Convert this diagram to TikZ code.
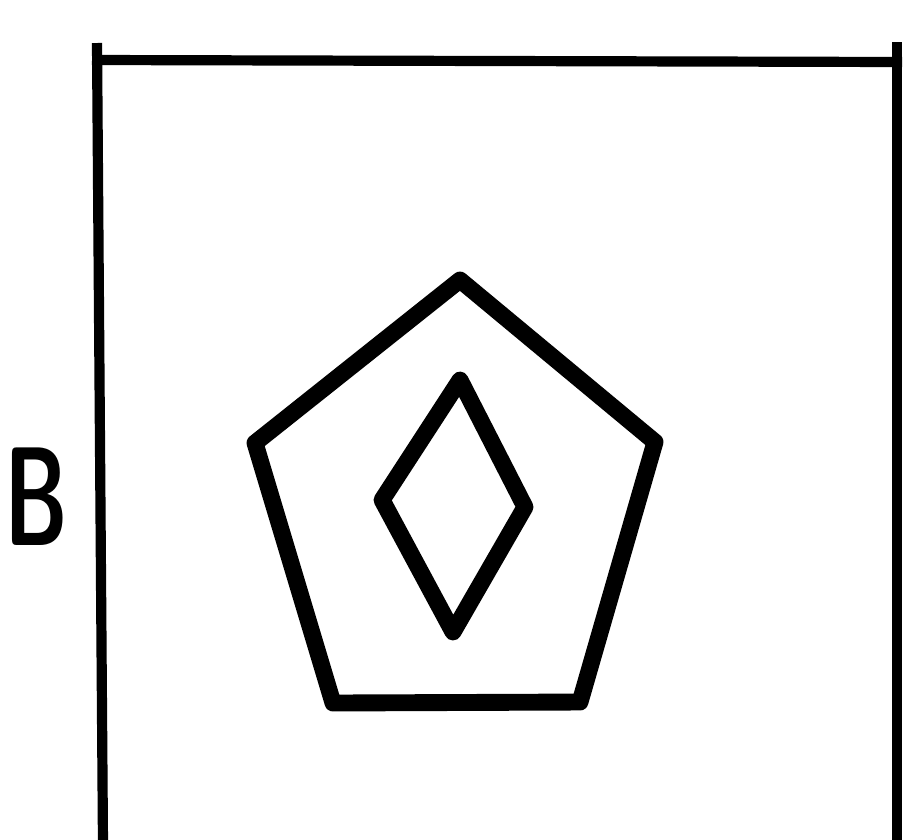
\documentclass[tikz,border=0pt]{standalone}
\begin{document}
\begin{tikzpicture}[x=0.01cm,y=-0.01cm,
  frameline/.style={line width=2.9pt,line cap=butt},
  shapeline/.style={line width=4.8pt,line join=round,line cap=round},
  letter/.style={font=\sffamily\bfseries\fontsize{40}{40}\selectfont,xscale=0.62,inner sep=0pt}]
\useasboundingbox (0,0) rectangle (910,839);
\begin{scope}
\clip (0,0) rectangle (910,839);
% frame
\draw[frameline] (97,43) -- (103,845);
\draw[frameline] (92,60) -- (902,62);
\draw[frameline] (897,42) -- (897,845);
% pentagon
\draw[shapeline] (460,280) -- (655,442) -- (580,702) -- (333,703) -- (255,443) -- cycle;
% diamond
\draw[shapeline] (460,380) -- (525,507) -- (453,632) -- (382,500) -- cycle;
\end{scope}
\node[letter] (B) at (36,497) {B};
\end{tikzpicture}
\end{document}
